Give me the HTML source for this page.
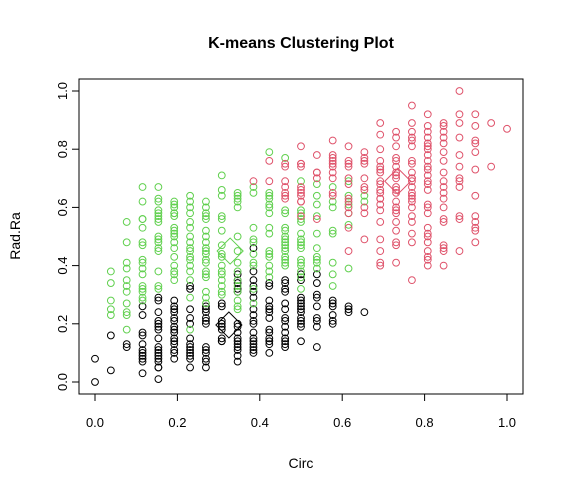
<!DOCTYPE html>
<html><head><meta charset="utf-8"><style>
body{margin:0;background:#fff}
svg{display:block;font-family:"Liberation Sans",Arial,sans-serif}
</style></head><body>
<svg id="chart" width="563" height="492" viewBox="0 0 563 492">
<text x="301" y="48" text-anchor="middle" font-size="16" font-weight="bold">K-means Clustering Plot</text>
<text x="301" y="468" text-anchor="middle" font-size="14">Circ</text>
<text transform="translate(20,236) rotate(-90)" text-anchor="middle" font-size="14">Rad.Ra</text>
<rect x="79" y="79" width="444" height="315" fill="none" stroke="#000" stroke-width="1"/>
<g id="axes"></g>
<g id="pts"></g>
</svg>
<script>
const xTicks=[0,0.2,0.4,0.6,0.8,1.0];
const xTickLabels=["0.0","0.2","0.4","0.6","0.8","1.0"];
const yTicks=[0,0.2,0.4,0.6,0.8,1.0];
const yTickLabels=["0.0","0.2","0.4","0.6","0.8","1.0"];
const colStep=1/26;
const blackData=[[0,[.08,0]],[1,[.16,.04]],[2,[.13,.12]],
[3,[.26,.23,.17,.16,.13,.11,.10,.09,.08,.07,.03]],
[4,[.29,.28,.24,.21,.20,.19,.18,.15,.12,.11,.10,.09,.08,.07,.05,.05,.01]],
[5,[.28,.26,.25,.24,.22,.21,.19,.18,.17,.15,.14,.13,.11,.10,.08]],
[6,[.33,.32,.25,.22,.20,.15,.13,.12,.11,.10,.09,.08,.05]],
[7,[.26,.25,.24,.22,.21,.20,.12,.11,.10,.08,.07,.05]],
[8,[.27,.26,.21,.20,.19,.18,.15,.14,.14]],
[9,[.37,.35,.34,.32,.31,.20,.19,.17,.15,.14,.13,.12,.11,.09,.07]],
[10,[.46,.38,.35,.33,.31,.29,.25,.23,.21,.20,.17,.15,.14,.13,.12,.11,.10]],
[11,[.34,.33,.28,.26,.25,.24,.22,.18,.17,.15,.14,.13,.10]],
[12,[.35,.34,.32,.31,.27,.25,.22,.21,.19,.17,.15,.14,.13,.12]],
[13,[.37,.35,.29,.28,.27,.26,.25,.24,.22,.21,.20,.19,.14]],
[14,[.37,.34,.30,.29,.26,.22,.21,.19,.12]],
[15,[.28,.27,.26,.23,.21,.20]],[16,[.26,.25,.24]],[17,[.24]]];
const greenData=[[1,[.38,.34,.28,.25,.23]],
[2,[.55,.48,.41,.39,.35,.33,.31,.27,.24,.23,.18]],
[3,[.67,.62,.56,.56,.53,.48,.47,.42,.41,.39,.37,.33,.32,.31,.29,.28]],
[4,[.67,.63,.62,.59,.58,.57,.56,.55,.50,.49,.48,.46,.45,.38,.33,.32]],
[5,[.62,.61,.60,.58,.58,.57,.53,.52,.51,.50,.48,.46,.43,.40,.38,.37,.35]],
[6,[.64,.62,.60,.58,.55,.53,.50,.48,.46,.45,.43,.42,.40,.38,.35,.29,.18]],
[7,[.62,.60,.58,.57,.56,.52,.50,.48,.46,.45,.44,.42,.41,.38,.37,.36,.31,.29,.27]],
[8,[.71,.66,.64,.57,.56,.52,.47,.44,.43,.40,.38,.37,.35,.33,.31,.30]],
[9,[.65,.64,.63,.62,.60,.50,.45,.41,.38,.35,.33,.31,.28,.26,.25]],
[10,[.67,.65,.53,.49,.48,.44,.41,.40,.32,.27]],
[11,[.79,.65,.64,.63,.61,.60,.58,.53,.51,.45,.44,.43,.40,.38,.36]],
[12,[.77,.59,.58,.53,.52,.50,.49,.48,.47,.46,.45,.43,.42,.41,.40]],
[13,[.69,.59,.58,.56,.55,.51,.49,.48,.47,.46,.42,.41,.40,.38,.36,.32]],
[14,[.68,.64,.61,.57,.51,.46,.43,.42,.41,.39]],
[15,[.67,.62,.60,.52,.51,.41,.37,.33]],
[16,[.69,.64,.61,.58,.54,.39]],[17,[.64,.62]]];
const pinkData=[[10,[.69]],[11,[.76,.69]],[12,[.75,.74,.69,.67,.65,.64,.63]],
[13,[.81,.75,.75,.74,.67,.66,.65,.64,.62,.62,.57]],
[14,[.78,.72,.72,.70,.56]],
[15,[.83,.78,.77,.76,.75,.74,.72,.70,.65,.64]],
[16,[.81,.76,.75,.74,.70,.68,.63,.62,.60,.58,.53,.45]],
[17,[.79,.77,.76,.75,.70,.67,.66,.60,.58,.49]],
[18,[.89,.85,.80,.76,.74,.73,.72,.69,.68,.66,.65,.63,.63,.61,.59,.55,.49,.45,.41,.40]],
[19,[.86,.84,.81,.77,.76,.74,.72,.71,.70,.67,.66,.65,.62,.60,.59,.58,.55,.52,.48,.47,.41]],
[20,[.95,.89,.86,.84,.83,.81,.76,.75,.72,.70,.70,.69,.67,.65,.64,.63,.62,.60,.57,.55,.51,.48,.35]],
[21,[.92,.88,.86,.84,.82,.81,.80,.78,.76,.74,.73,.71,.69,.68,.66,.61,.60,.58,.53,.51,.50,.48,.45,.43,.42,.40]],
[22,[.89,.88,.86,.84,.82,.79,.76,.72,.69,.67,.65,.63,.60,.56,.55,.47,.46,.45,.40]],
[23,[1.0,.92,.89,.84,.78,.74,.70,.69,.67,.57,.56,.45]],
[24,[.92,.88,.83,.82,.79,.73,.64,.57,.55,.53,.52,.48]],
[25,[.89,.74]],[26,[.87]]];
const centerX=[0.325,0.328,0.735];
const centerY=[0.196,0.45,0.69];
const clusterColors=["#000000","#61D04F","#DF536B"];

const NS="http://www.w3.org/2000/svg";
function sx(v){return 95+412*v;}
function sy(v){return 382-291*v;}
function mk(tag,attrs,parent){const e=document.createElementNS(NS,tag);for(const k in attrs)e.setAttribute(k,attrs[k]);parent.appendChild(e);return e;}
const axes=document.getElementById('axes');
mk('line',{x1:sx(0),x2:sx(1),y1:394,y2:394,stroke:'#000'},axes);
mk('line',{x1:79,x2:79,y1:sy(0),y2:sy(1),stroke:'#000'},axes);
xTicks.forEach((t,i)=>{
 const l=mk('line',{x1:sx(t),x2:sx(t),y1:394,y2:401,stroke:'#000'},axes);
 
 
 const tx=mk('text',{x:sx(t),y:427,'text-anchor':'middle','font-size':13},axes);
 tx.textContent=xTickLabels[i];
 
 
});
yTicks.forEach((t,i)=>{
 const l=mk('line',{x1:72,x2:79,y1:sy(t),y2:sy(t),stroke:'#000'},axes);
 
 
 const tx=mk('text',{transform:`translate(67,${sy(t)}) rotate(-90)`,'text-anchor':'middle','font-size':13},axes);
 tx.textContent=yTickLabels[i];
 
 
});
const pts=document.getElementById('pts');
[blackData,greenData,pinkData].forEach((data,ci)=>{
 data.forEach(([k,ys])=>{
  ys.forEach(y=>{
   const c=mk('circle',{cx:sx(k*colStep),cy:sy(y),r:3.4,fill:'none',stroke:clusterColors[ci],'stroke-width':1},pts);
   
   
  });
 });
});
centerX.forEach((x,i)=>{
 const cx=sx(x),cy=sy(centerY[i]),h=13;
 const d=mk('polygon',{points:`${cx},${cy-h} ${cx+h},${cy} ${cx},${cy+h} ${cx-h},${cy}`,fill:'none',stroke:clusterColors[i],'stroke-width':1},pts);
 
 
});
</script>
</body></html>
